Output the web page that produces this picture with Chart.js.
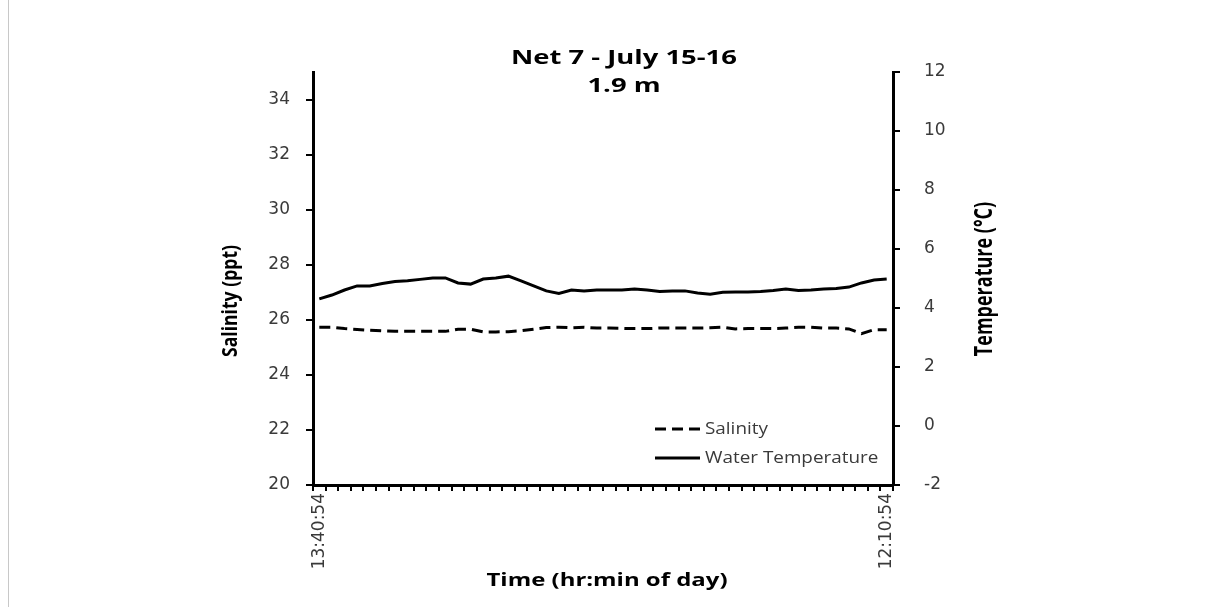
<!DOCTYPE html>
<html>
<head>
<meta charset="utf-8">
<script src="https://cdn.jsdelivr.net/npm/chart.js@4.4.1/dist/chart.umd.min.js"></script>
<style>
  html, body { margin: 0; padding: 0; background: #fff; }
  #wrap { position: relative; width: 1206px; height: 607px; }
  #edge { position: absolute; left: 8px; top: 0; width: 1px; height: 607px; background: #c8c8c8; }
  canvas { display: block; }
</style>
</head>
<body>
<div id="wrap">
  <canvas id="c" width="1206" height="607"></canvas>
  <div id="edge"></div>
</div>
<script>
// Half-hourly readings, Net 7, 1.9 m depth
const times = [
  '13:40:54','14:10:54','14:40:54','15:10:54','15:40:54','16:10:54','16:40:54','17:10:54',
  '17:40:54','18:10:54','18:40:54','19:10:54','19:40:54','20:10:54','20:40:54','21:10:54',
  '21:40:54','22:10:54','22:40:54','23:10:54','23:40:54','0:10:54','0:40:54','1:10:54',
  '1:40:54','2:10:54','2:40:54','3:10:54','3:40:54','4:10:54','4:40:54','5:10:54',
  '5:40:54','6:10:54','6:40:54','7:10:54','7:40:54','8:10:54','8:40:54','9:10:54',
  '9:40:54','10:10:54','10:40:54','11:10:54','11:40:54','12:10:54'
];

const salinity = [
  25.73, 25.73, 25.68, 25.65, 25.62, 25.60, 25.58, 25.58, 25.58, 25.58,
  25.58, 25.66, 25.66, 25.56, 25.56, 25.57, 25.60, 25.66, 25.72, 25.73,
  25.71, 25.73, 25.70, 25.70, 25.69, 25.68, 25.68, 25.70, 25.70, 25.70,
  25.70, 25.71, 25.73, 25.67, 25.68, 25.68, 25.68, 25.70, 25.73, 25.73,
  25.70, 25.70, 25.67, 25.50, 25.64, 25.64
];

const waterTemp = [
  4.31, 4.44, 4.61, 4.75, 4.75, 4.83, 4.90, 4.92, 4.97, 5.02,
  5.02, 4.85, 4.81, 4.98, 5.02, 5.08, 4.92, 4.75, 4.58, 4.49,
  4.61, 4.58, 4.61, 4.61, 4.61, 4.64, 4.61, 4.56, 4.58, 4.58,
  4.51, 4.47, 4.53, 4.54, 4.54, 4.56, 4.59, 4.64, 4.59, 4.61,
  4.64, 4.66, 4.71, 4.85, 4.95, 4.98
];

const salinityTicks = { min: 20, max: 35, step: 2 };
const tempTicks = { min: -2, max: 12, step: 2 };

const titleLines = ['Net 7 - July 15-16', '1.9 m'];
const xTitle = 'Time (hr:min of day)';
const yLeftTitle = 'Salinity (ppt)';
const yRightTitle = 'Temperature (°C)';

const tickFont = { family: 'DejaVu Sans', size: 17 };
const tickColor = '#3a3a3a';

// Draw a text string with optional stretch along its baseline and rotation
function stretchedText(ctx, text, x, y, font, stretch, angle) {
  ctx.save();
  ctx.translate(x, y);
  if (angle) ctx.rotate(angle);
  ctx.scale(stretch, 1);
  ctx.font = font;
  ctx.fillText(text, 0, 0);
  ctx.restore();
}

// Titles and the in-plot legend are painted directly on the canvas
const annotations = {
  id: 'annotations',
  afterDraw(chart) {
    const ctx = chart.ctx;
    ctx.save();
    ctx.fillStyle = '#000';
    ctx.textAlign = 'center';
    ctx.textBaseline = 'middle';
    const titleFont = 'bold 20px "Open Sans"';
    stretchedText(ctx, titleLines[0], 624, 58, titleFont, 1.37, 0);
    stretchedText(ctx, titleLines[1], 624, 86, titleFont, 1.37, 0);

    stretchedText(ctx, xTitle, 607, 581, 'bold 18px "Open Sans"', 1.33, 0);

    stretchedText(ctx, yLeftTitle, 231, 301, 'bold 22px "Open Sans"', 0.8, -Math.PI / 2);
    stretchedText(ctx, yRightTitle, 985, 279, 'bold 25px "Open Sans"', 0.72, -Math.PI / 2);

    // legend
    const rows = [
      { ds: chart.data.datasets[0], y: 429 },
      { ds: chart.data.datasets[1], y: 458 }
    ];
    ctx.textAlign = 'left';
    rows.forEach(r => {
      ctx.save();
      ctx.strokeStyle = r.ds.borderColor;
      ctx.lineWidth = r.ds.borderWidth;
      ctx.setLineDash(r.ds.borderDash || []);
      ctx.beginPath();
      ctx.moveTo(655, r.y);
      ctx.lineTo(700, r.y);
      ctx.stroke();
      ctx.restore();
      ctx.fillStyle = tickColor;
      stretchedText(ctx, r.ds.label, 705, r.y, '16px "Open Sans"', 1.18, 0);
    });
    ctx.restore();
  }
};

new Chart(document.getElementById('c'), {
  type: 'line',
  data: {
    labels: times,
    datasets: [
      {
        label: 'Salinity',
        data: salinity,
        yAxisID: 'ySal',
        borderColor: '#000',
        borderWidth: 3,
        borderDash: [11, 6],
        pointRadius: 0,
        tension: 0,
        fill: false
      },
      {
        label: 'Water Temperature',
        data: waterTemp,
        yAxisID: 'yTemp',
        borderColor: '#000',
        borderWidth: 3,
        pointRadius: 0,
        tension: 0,
        fill: false
      }
    ]
  },
  options: {
    responsive: false,
    animation: false,
    layout: { padding: { top: 72, left: 0, right: 0, bottom: 0 } },
    plugins: { legend: { display: false }, title: { display: false }, tooltip: { enabled: false } },
    scales: {
      x: {
        type: 'category',
        offset: true,
        grid: { display: true, offset: true, drawOnChartArea: false, drawTicks: true, tickLength: 6, color: '#000', lineWidth: 2 },
        border: { display: true, color: '#000', width: 3 },
        ticks: {
          autoSkip: false,
          minRotation: 90,
          maxRotation: 90,
          padding: 2,
          color: tickColor,
          font: tickFont,
          callback: (v, i) => (i === 0 || i === times.length - 1) ? times[i] : ''
        },
        afterFit: s => { s.height = 122; }
      },
      ySal: {
        type: 'linear',
        position: 'left',
        min: salinityTicks.min,
        max: salinityTicks.max,
        grid: { display: true, drawOnChartArea: false, drawTicks: true, tickLength: 7, color: '#000', lineWidth: 2 },
        border: { display: true, color: '#000', width: 3 },
        ticks: { stepSize: salinityTicks.step, includeBounds: false, padding: 16, color: tickColor, font: tickFont },
        afterFit: s => { s.width = 313; }
      },
      yTemp: {
        type: 'linear',
        position: 'right',
        min: tempTicks.min,
        max: tempTicks.max,
        grid: { display: true, drawOnChartArea: false, drawTicks: true, tickLength: 7, color: '#000', lineWidth: 2 },
        border: { display: true, color: '#000', width: 3 },
        ticks: { stepSize: tempTicks.step, padding: 24, color: tickColor, font: tickFont },
        afterFit: s => { s.width = 313; }
      }
    }
  },
  plugins: [annotations]
});
</script>
</body>
</html>
